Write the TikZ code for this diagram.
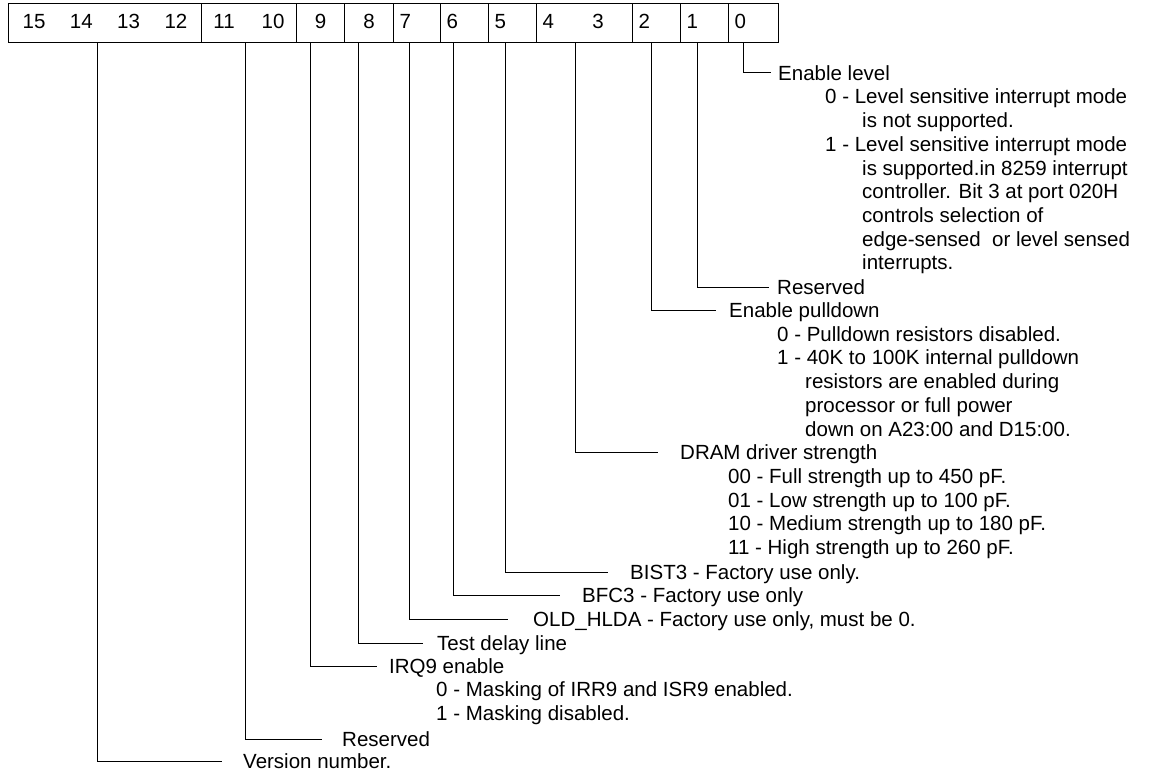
\documentclass[tikz,border=0pt]{standalone}
\usepackage{fontspec}
\setmainfont{Liberation Sans}
\newcommand{\bitfont}{\fontsize{20.5}{23}\selectfont}
\newcommand{\descfont}{\fontsize{20.5}{23.72}\selectfont}
\tikzset{
  regfield/.style={draw, line width=1pt, anchor=west, minimum height=39pt,
    inner ysep=0pt, inner xsep=6pt, text height=14.7pt, text depth=4pt,
    font=\bitfont},
  bitdesc/.style={anchor=west, inner sep=0pt, text height=14.7pt,
    text depth=0pt, font=\descfont},
  bitnote/.style={anchor=base west, inner sep=0pt, align=left, font=\descfont},
  leadline/.style={line width=1pt}
}
\begin{document}
\begin{tikzpicture}[x=1pt, y=-1pt]
    \useasboundingbox (0,0) rectangle (1155,775);
    % Register fields
    \node[regfield, text width=181pt, align=center] (f1512) at (8,23.5) {15\hspace{24.5pt}14\hspace{24.5pt}13\hspace{24.5pt}12};
    \node[regfield, text width=83pt, align=center] (f1110) at (201,23.5) {11\hspace{27pt}10};
    \node[regfield, text width=36pt, align=center] (f9) at (296,23.5) {9};
    \node[regfield, text width=37pt, align=center] (f8) at (344,23.5) {8};
    \node[regfield, text width=35pt, align=left] (f7) at (393,23.5) {7};
    \node[regfield, text width=36pt, align=left] (f6) at (440,23.5) {6};
    \node[regfield, text width=36pt, align=left] (f5) at (488,23.5) {5};
    \node[regfield, text width=84pt, align=left] (f43) at (536,23.5) {4\hspace{38.6pt}3};
    \node[regfield, text width=36pt, align=left] (f2) at (632,23.5) {2};
    \node[regfield, text width=36pt, align=left] (f1) at (680,23.5) {1};
    \node[regfield, text width=38pt, align=left] (f0) at (728,23.5) {0};
    % Bit descriptions (multi-line notes sit on their last baseline)
    \node[bitdesc] (t0) at (778,73) {Enable level};
    \node[bitnote] (n0) at (825,270) {0 - Level sensitive interrupt mode\\
        \hspace*{37pt}is not supported.\\
        1 - Level sensitive interrupt mode\\
        \hspace*{37pt}is supported.in 8259 interrupt\\
        \hspace*{37pt}controller. Bit 3 at port 020H\\
        \hspace*{37pt}controls selection of\\
        \hspace*{37pt}edge-sensed\ \ or level sensed\\
        \hspace*{37pt}interrupts.};
    \node[bitdesc] (t1) at (777,287.5) {Reserved};
    \node[bitdesc] (t2) at (729,310.5) {Enable pulldown};
    \node[bitnote] (n2) at (777,436.1) {0 - Pulldown resistors disabled.\\
        1 - 40K to 100K internal pulldown\\
        \hspace*{28pt}resistors are enabled during\\
        \hspace*{28pt}processor or full power\\
        \hspace*{28pt}down on A23:00 and D15:00.};
    \node[bitdesc] (t43) at (680,452.5) {DRAM driver strength};
    \node[bitnote] (n43) at (728,554.7) {00 - Full strength up to 450 pF.\\
        01 - Low strength up to 100 pF.\\
        10 - Medium strength up to 180 pF.\\
        11 - High strength up to 260 pF.};
    \node[bitdesc] (t5) at (630,572) {BIST3 - Factory use only.};
    \node[bitdesc] (t6) at (582,595) {BFC3 - Factory use only};
    \node[bitdesc] (t7) at (533,619.5) {OLD\_HLDA - Factory use only, must be 0.};
    \node[bitdesc] (t8) at (437,643.5) {Test delay line};
    \node[bitdesc] (t9) at (389,666.5) {IRQ9 enable};
    \node[bitnote] (n9) at (436,720.7) {0 - Masking of IRR9 and ISR9 enabled.\\
        1 - Masking disabled.};
    \node[bitdesc] (t1110) at (342,739) {Reserved};
    \node[bitdesc] (t1512) at (243,761) {Version number.};
    % Leader lines
    \draw[leadline] ([xshift=15pt]f0.south west) |- ([xshift=-7pt]t0.west);
    \draw[leadline] ([xshift=17pt]f1.south west) |- ([xshift=-8pt]t1.west);
    \draw[leadline] ([xshift=19pt]f2.south west) |- ([xshift=-13pt]t2.west);
    \draw[leadline] ([xshift=39pt]f43.south west) |- ([xshift=-22pt]t43.west);
    \draw[leadline] ([xshift=17pt]f5.south west) |- ([xshift=-22pt]t5.west);
    \draw[leadline] ([xshift=13pt]f6.south west) |- ([xshift=-22pt]t6.west);
    \draw[leadline] ([xshift=16pt]f7.south west) |- ([xshift=-25pt]t7.west);
    \draw[leadline] ([xshift=14pt]f8.south west) |- ([xshift=-14pt]t8.west);
    \draw[leadline] ([xshift=14pt]f9.south west) |- ([xshift=-12pt]t9.west);
    \draw[leadline] ([xshift=44pt]f1110.south west) |- ([xshift=-20pt]t1110.west);
    \draw[leadline] ([xshift=89pt]f1512.south west) |- ([xshift=-21pt]t1512.west);
\end{tikzpicture}
\end{document}
